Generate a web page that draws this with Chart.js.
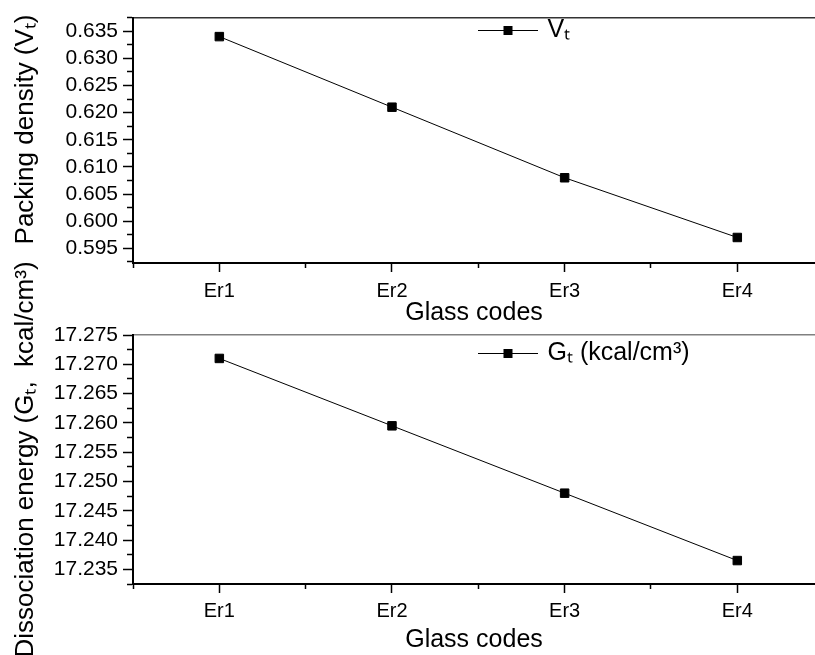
<!DOCTYPE html>
<html>
<head>
<meta charset="utf-8">
<script src="https://cdn.jsdelivr.net/npm/chart.js@4.4.0/dist/chart.umd.min.js"></script>
<style>
body{margin:0;background:#fff;width:815px;height:655px;overflow:hidden;position:relative}
canvas{position:absolute;left:0}
#chartTop{top:0}
#chartBottom{top:260px}
</style>
</head>
<body>
<canvas id="chartTop" width="815" height="330"></canvas>
<canvas id="chartBottom" width="815" height="395"></canvas>
<script>
// data
var glassCodes = ['Er1', 'Er2', 'Er3', 'Er4'];
var packingDensity = [0.634, 0.621, 0.608, 0.597];
var dissociationEnergy = [17.271, 17.2595, 17.248, 17.2365];
var packingTickLabels = ['0.595', '0.600', '0.605', '0.610', '0.615', '0.620', '0.625', '0.630', '0.635'];
var energyTickLabels = ['17.235', '17.240', '17.245', '17.250', '17.255', '17.260', '17.265', '17.270', '17.275'];

var FONT = "'Liberation Sans', Arial, sans-serif";
var LEGEND_SIZE = 25;

// little line + square used as legend symbol
function legendSymbol(){
	var c = document.createElement('canvas');
	c.width = 60; c.height = 12;
	var g = c.getContext('2d');
	g.strokeStyle = '#000';
	g.lineWidth = 1;
	g.beginPath(); g.moveTo(0, 6.5); g.lineTo(60, 6.5); g.stroke();
	g.fillStyle = '#000';
	g.fillRect(25.5, 2, 9, 9);
	return c;
}

// moves the legend to where it sits in the figure
var legendPlace = {
	id: 'legendPlace',
	beforeDraw: function(chart, args, opts){
		var lg = chart.legend;
		var pad = lg.options.labels.padding;
		var w = lg.right - lg.left, h = lg.bottom - lg.top;
		lg.left = opts.x - pad;
		lg.right = lg.left + w;
		lg.top = opts.y - pad - LEGEND_SIZE / 2;
		lg.bottom = lg.top + h;
	}
};

function noSidePadding(s){
	s.paddingLeft = 0;
	s.paddingRight = 0;
}

function makeChart(id, values, label, yTitle, yMin, yMax, tickLabels, lay){
	var ctx = document.getElementById(id).getContext('2d');
	var pts = values.map(function(v, i){ return {x: i, y: v}; });
	var isMajorY = function(v){ return tickLabels.indexOf(v.toFixed(3)) >= 0 && Math.abs(v * 200 - Math.round(v * 200)) < 1e-6; };

	return new Chart(ctx, {
		type: 'line',
		data: {
			datasets: [{
				label: label,
				data: pts,
				borderColor: '#000',
				borderWidth: 1,
				pointStyle: 'rect',
				pointRadius: 6,
				pointBackgroundColor: '#000',
				pointBorderColor: '#000',
				pointBorderWidth: 1,
				tension: 0
			}]
		},
		options: {
			responsive: false,
			animation: false,
			devicePixelRatio: 1,
			layout: {autoPadding: false, padding: {top: lay.top, left: 0, right: 0, bottom: 0}},
			plugins: {
				tooltip: {enabled: false},
				legend: {
					position: 'chartArea',
					align: 'start',
					labels: {
						usePointStyle: true,
						pointStyle: legendSymbol(),
						pointStyleWidth: 54,
						padding: 4,
						color: '#000',
						font: {family: FONT, size: LEGEND_SIZE}
					}
				},
				legendPlace: {x: 481, y: lay.legendY}
			},
			scales: {
				x: {
					type: 'linear',
					position: 'bottom',
					min: -0.5,
					max: 3.45,
					afterFit: function(s){ s.height = lay.xHeight; noSidePadding(s); },
					ticks: {
						stepSize: 0.5,
						autoSkip: false,
						includeBounds: false,
						maxRotation: 0,
						padding: lay.xPad,
						color: '#000',
						font: {family: FONT, size: 20},
						callback: function(v){ return Number.isInteger(v) ? glassCodes[v] : ''; }
					},
					grid: {
						drawOnChartArea: false,
						tickLength: 9,
						tickColor: '#000',
						tickWidth: 1.5,
						tickBorderDash: function(c){ return Number.isInteger(c.tick.value) ? [] : [4, 30]; }
					},
					border: {color: '#000', width: 2},
					title: {
						display: true,
						text: 'Glass codes',
						color: '#000',
						font: {family: FONT, size: 25},
						padding: {top: 0, bottom: lay.xTitlePad}
					}
				},
				x2: {
					type: 'linear',
					position: 'top',
					min: -0.5,
					max: 3.45,
					afterFit: function(s){ s.height = 0; noSidePadding(s); },
					ticks: {display: false},
					grid: {drawOnChartArea: false, drawTicks: false},
					border: {color: lay.topColor, width: 1.5}
				},
				y: {
					min: yMin,
					max: yMax,
					afterFit: function(s){ s.width = 133; },
					ticks: {
						stepSize: 0.0025,
						autoSkip: false,
						includeBounds: false,
						padding: 5,
						color: '#000',
						font: {family: FONT, size: 21},
						callback: function(v){ return isMajorY(v) ? v.toFixed(3) : ''; }
					},
					grid: {
						drawOnChartArea: false,
						tickLength: 10,
						tickColor: '#000',
						tickWidth: 1.5,
						tickBorderDash: function(c){ return isMajorY(c.tick.value) ? [] : [5, 4]; },
						tickBorderDashOffset: function(c){ return isMajorY(c.tick.value) ? 0 : 5; }
					},
					border: {color: '#000', width: 2},
					title: {
						display: true,
						text: yTitle,
						color: '#000',
						font: {family: FONT, size: 26},
						padding: {top: 10, bottom: 0}
					}
				}
			}
		},
		plugins: [legendPlace]
	});
}

makeChart('chartTop', packingDensity, 'Vₜ', '   Packing density (Vₜ)', 0.5923, 0.6375, packingTickLabels,
	{top: 14, xHeight: 67, xPad: 7, xTitlePad: 2, legendY: 30, topColor: '#333'});

makeChart('chartBottom', dissociationEnergy, 'Gₜ (kcal/cm³)', 'Dissociation energy (Gₜ,  kcal/cm³)', 17.2325, 17.275, energyTickLabels,
	{top: 75, xHeight: 71, xPad: 6, xTitlePad: 0, legendY: 93, topColor: '#808080'});
</script>
</body>
</html>
